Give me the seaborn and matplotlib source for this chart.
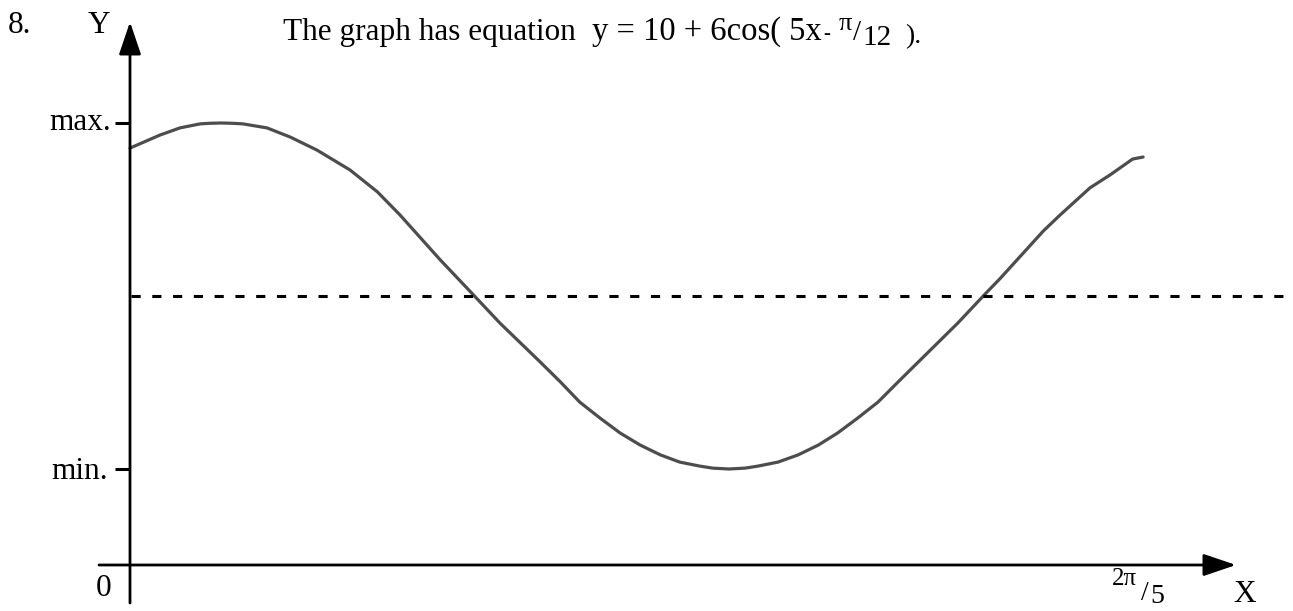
import matplotlib
matplotlib.use("Agg")
import matplotlib.pyplot as plt
import seaborn as sns

# Sampled points of y = 10 + 6cos(5x - pi/12) over one period
x_vals = [0.000, 0.037, 0.062, 0.087, 0.099, 0.113, 0.127, 0.140, 0.170, 0.199,
          0.232, 0.273, 0.307, 0.335, 0.385, 0.424, 0.459, 0.509, 0.534, 0.558,
          0.583, 0.608, 0.633, 0.658, 0.682, 0.707, 0.723, 0.743, 0.763, 0.779,
          0.804, 0.829, 0.854, 0.878, 0.903, 0.928, 0.953, 0.978, 1.027, 1.062,
          1.079, 1.133, 1.154, 1.191, 1.216, 1.244, 1.257]
y_vals = [15.13, 15.58, 15.83, 15.97, 15.99, 16.00, 15.99, 15.97, 15.83, 15.51,
          15.06, 14.37, 13.61, 12.81, 11.25, 10.10, 9.06, 7.71, 7.02, 6.32,
          5.77, 5.25, 4.83, 4.49, 4.24, 4.10, 4.03, 4.00, 4.03, 4.10,
          4.24, 4.49, 4.83, 5.25, 5.77, 6.32, 7.02, 7.71, 9.06, 10.10,
          10.59, 12.25, 12.81, 13.75, 14.20, 14.75, 14.82]

y_max = 16
y_min = 4
y_mid = 10

sns.set_theme(style="white")
plt.rcParams["font.family"] = ["Liberation Serif", "DejaVu Serif"]

W, H = 1293, 611
fig = plt.figure(figsize=(W / 100, H / 100), dpi=100)
ax = fig.add_axes([0, 0, 1, 1])
ax.set_axis_off()

# pixel <-> data helpers for placing the hand-drawn axis furniture
X0_PX = 130.0
SX = 806.0
YMAX_PX, YMIN_PX = 123.0, 469.0
SY = (YMIN_PX - YMAX_PX) / (y_max - y_min)


def fx(px):
    return (px - X0_PX) / SX


def fy(py):
    return y_min + (YMIN_PX - py) / SY


ax.set_xlim(fx(0), fx(W))
ax.set_ylim(fy(H), fy(0))

# the curve
sns.lineplot(x=x_vals, y=y_vals, ax=ax, color="#4d4d4d", linewidth=2.3)

# midline
ax.plot([fx(131), fx(1287)], [y_mid, y_mid], color="black", linewidth=2.2,
        linestyle=(0, (3.0, 3.8)), solid_capstyle="butt")

# axes with arrow heads
arrow = dict(arrowstyle="-|>,head_length=2.0,head_width=0.68", mutation_scale=10,
             color="black", linewidth=2.0, shrinkA=0, shrinkB=0)
ax.annotate("", xy=(fx(130), fy(22)), xytext=(fx(130), fy(603)), arrowprops=arrow)
ax.annotate("", xy=(fx(1236), fy(565)), xytext=(fx(99), fy(565)), arrowprops=arrow)

# max / min tick marks
for val in (y_max, y_min):
    ax.plot([fx(115), fx(130)], [val, val], color="black", linewidth=2.2,
            solid_capstyle="butt")


def put(px, py, s, size, ha="left"):
    ax.text(fx(px), fy(py), s, fontsize=size, ha=ha, va="baseline", color="black")


BIG = 22.5
put(8, 33, "8.", BIG)
put(88, 33, "Y", BIG)
put(111, 130, "max.", BIG, ha="right")
put(108, 479, "min.", BIG, ha="right")
put(104, 596, "0", BIG, ha="center")
put(1233, 602, "X", BIG)

# x-axis end label 2π/5
put(1112, 585, "2π", 18)
put(1141, 600, "/", 20)
put(1150, 603, "5", 20)

# equation line
put(283, 40, "The graph has equation", BIG)
put(592, 40, "y = 10 + 6cos( 5x", 23.5)
put(823, 39, "-", 15)
put(839, 30, "π", 19)
put(853, 40, "/", 21)
put(862, 45, "12", 21)
put(905, 43, ").", 20)

fig.savefig("out.png", dpi=100)
